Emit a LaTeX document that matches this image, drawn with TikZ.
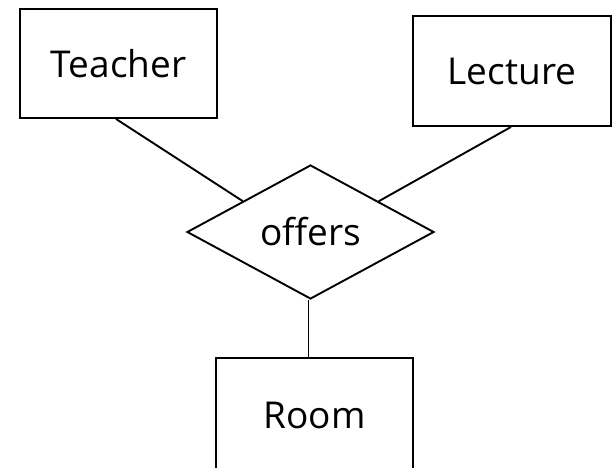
\documentclass[tikz,border=0pt]{standalone}
\usepackage{fontspec}
\setmainfont{Open Sans}
\usetikzlibrary{shapes.geometric,calc}
\tikzset{
  entity/.style={draw, line width=1.9pt, inner sep=0pt, font=\fontsize{37}{44}\selectfont},
  relation/.style={draw, diamond, line width=1.9pt, inner sep=0pt, aspect=2, minimum width=247pt, minimum height=134pt, font=\fontsize{37}{44}\selectfont},
  link/.style={line width=1.9pt}
}
\begin{document}
\begin{tikzpicture}[x=1pt,y=-1pt]
\useasboundingbox (0,0) rectangle (613,468);
\begin{scope}
\clip (0,0) rectangle (613,468);
\node[entity, minimum width=197pt, minimum height=109pt] (T) at (118.5,63.5) {Teacher};
\node[entity, minimum width=198pt, minimum height=110pt] (L) at (512,71) {Lecture};
\node[relation] (D) at (310.5,232) {offers};
\node[entity, minimum width=197pt, minimum height=114pt] (R) at (314.5,415) {Room};
\coordinate (t1) at (116,118);
\coordinate (l1) at (511,126);
\draw[link] (T.south -| t1) -- ($(D.west)!0.455!(D.north)$);
\draw[link] (L.south -| l1) -- ($(D.north)!0.548!(D.east)$);
\draw[link] (D.south -| R.north) ++(-6,0) coordinate (r0) -- (r0 |- R.north);
\end{scope}
\end{tikzpicture}
\end{document}
